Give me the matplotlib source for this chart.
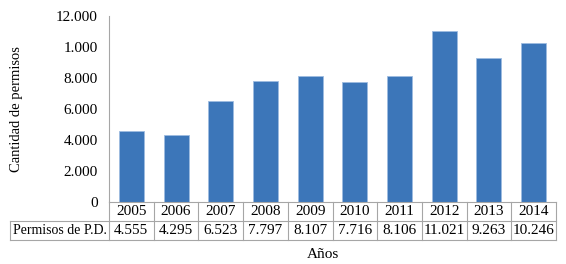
import matplotlib.pyplot as plt
from matplotlib.transforms import blended_transform_factory

years = ["2005", "2006", "2007", "2008", "2009", "2010", "2011", "2012", "2013", "2014"]
permits = [4555, 4295, 6523, 7797, 8107, 7716, 8106, 11021, 9263, 10246]
permit_labels = ["4.555", "4.295", "6.523", "7.797", "8.107", "7.716", "8.106", "11.021", "9.263", "10.246"]
yticks = [0, 2000, 4000, 6000, 8000, 10000, 12000]
ytick_labels = ["0", "2.000", "4.000", "6.000", "8.000", "1.000", "12.000"]
row_label = "Permisos de P.D."

plt.rcParams['font.family'] = ['Liberation Serif', 'DejaVu Serif']
W, H = 566, 264
fs = 11
fig = plt.figure(figsize=(W / 100, H / 100), dpi=100)
ax = fig.add_axes([109 / W, 62 / H, 447 / W, 186 / H])

bar_color = "#3C76B9"
grid_color = "#A6A6A6"
x = list(range(len(years)))
ax.bar(x, permits, width=0.56, color=bar_color, edgecolor="#9DBCE0", linewidth=0.6)
ax.set_xlim(-0.5, len(years) - 0.5)
ax.set_ylim(0, 12000)
ax.set_yticks(yticks)
ax.set_yticklabels(ytick_labels, fontsize=fs)
ax.tick_params(axis='y', length=0, pad=8)
ax.set_xticks([])
for s in ["top", "right", "bottom"]:
    ax.spines[s].set_visible(False)
ax.spines["left"].set_color(grid_color)
ax.spines["left"].set_linewidth(0.8)
ax.set_ylabel("Cantidad de permisos", fontsize=10.5)
ax.yaxis.set_label_coords((23 - 109) / 447, 0.5)

# data table under the axes
tr = blended_transform_factory(ax.transData, ax.transAxes)
rh = 19 / 186
label_left = (10 - 109) / 447
kw = dict(color=grid_color, lw=0.8, clip_on=False)
ax.plot([-0.5, len(years) - 0.5], [0, 0], transform=tr, **kw)
for r in (1, 2):
    ax.plot([label_left, 1], [-r * rh, -r * rh], transform=ax.transAxes, **kw)
for k in range(len(years) + 1):
    ax.plot([k - 0.5, k - 0.5], [0, -2 * rh], transform=tr, **kw)
ax.plot([label_left, label_left], [-rh, -2 * rh], transform=ax.transAxes, **kw)

for i, (yr, lab) in enumerate(zip(years, permit_labels)):
    ax.text(i, -0.5 * rh, yr, transform=tr, ha="center", va="center", fontsize=fs)
    ax.text(i, -1.5 * rh, lab, transform=tr, ha="center", va="center", fontsize=fs)
ax.text(label_left / 2, -1.5 * rh, row_label, transform=ax.transAxes,
        ha="center", va="center", fontsize=10)

fig.text(323 / W, 1 - 254 / H, "Años", ha="center", va="center", fontsize=fs)

fig.savefig("out.png", dpi=100)
